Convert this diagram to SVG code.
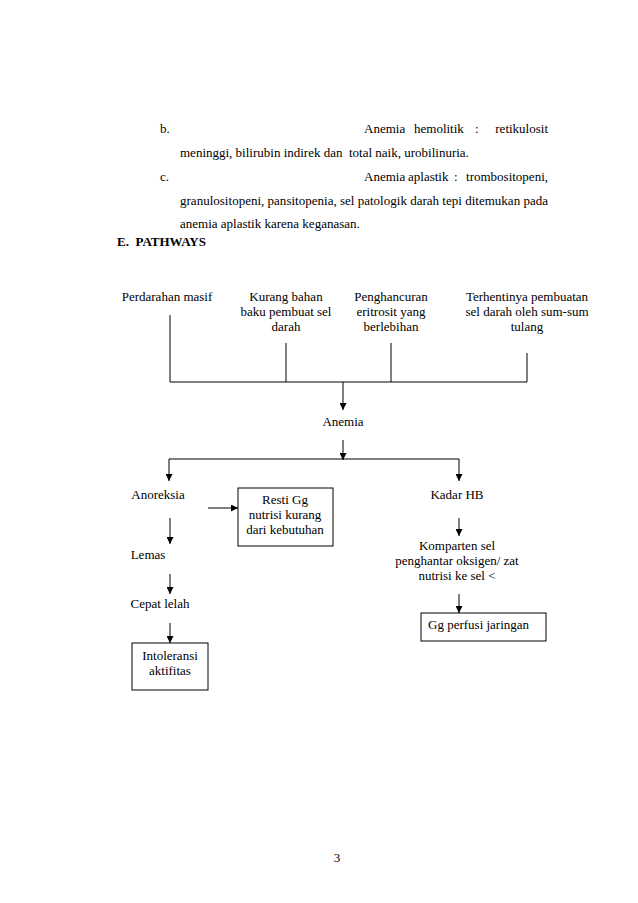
<svg xmlns="http://www.w3.org/2000/svg" width="638" height="903" viewBox="0 0 638 903">
<style>
text{font-family:"Liberation Serif","Times New Roman",serif;font-size:13px;fill:#000}
.c{text-anchor:middle}
.e{text-anchor:end}
.b{font-weight:bold}
line,path{stroke:#000;stroke-width:1;fill:none}
rect{stroke:#000;stroke-width:1;fill:#fff}
</style>
<defs>
<marker id="ah" viewBox="0 0 10 10" refX="10" refY="5" markerWidth="7" markerHeight="7" orient="auto" markerUnits="userSpaceOnUse">
<path d="M0,0 L10,5 L0,10 z" style="fill:#000;stroke:none"/>
</marker>
</defs>
<g id="body-text">
<text x="160" y="133">b.</text>
<text x="364" y="133">Anemia</text>
<text x="414" y="133">hemolitik</text>
<text x="475" y="133">:</text>
<text x="548" y="133" class="e">retikulosit</text>
<text x="180" y="157">meninggi, bilirubin indirek dan&#160; total naik, urobilinuria.</text>
<text x="160" y="181">c.</text>
<text x="364" y="181">Anemia</text>
<text x="408" y="181">aplastik</text>
<text x="454" y="181">:</text>
<text x="548" y="181" class="e">trombositopeni,</text>
<text x="180" y="205" textLength="368" lengthAdjust="spacing">granulositopeni, pansitopenia, sel patologik darah tepi ditemukan pada</text>
<text x="180" y="228">anemia aplastik karena keganasan.</text>
<text x="117" y="246" class="b">E.&#160; PATHWAYS</text>
<text x="337" y="862" class="c">3</text>
</g>
<g id="connectors">
<line x1="170" y1="315" x2="170" y2="382"/>
<line x1="286" y1="343" x2="286" y2="382"/>
<line x1="391" y1="343" x2="391" y2="382"/>
<line x1="527" y1="353" x2="527" y2="382"/>
<line x1="170" y1="382" x2="527" y2="382"/>
<line x1="343" y1="382" x2="343" y2="410" marker-end="url(#ah)"/>
<line x1="343" y1="440" x2="343" y2="460" marker-end="url(#ah)"/>
<line x1="169" y1="459" x2="459" y2="459"/>
<line x1="169" y1="459" x2="169" y2="481" marker-end="url(#ah)"/>
<line x1="459" y1="459" x2="459" y2="481" marker-end="url(#ah)"/>
<line x1="208" y1="508" x2="238" y2="508" marker-end="url(#ah)"/>
<line x1="170" y1="518" x2="170" y2="544" marker-end="url(#ah)"/>
<line x1="170" y1="574" x2="170" y2="594" marker-end="url(#ah)"/>
<line x1="170" y1="623" x2="170" y2="643" marker-end="url(#ah)"/>
<line x1="459" y1="518" x2="459" y2="536" marker-end="url(#ah)"/>
<line x1="459" y1="594" x2="459" y2="613" marker-end="url(#ah)"/>
</g>
<g id="n-perdarahan"><text x="167" y="301" class="c">Perdarahan masif</text></g>
<g id="n-kurang"><text x="286" y="301" class="c">Kurang bahan</text><text x="286" y="316" class="c">baku pembuat sel</text><text x="286" y="331" class="c">darah</text></g>
<g id="n-penghancuran"><text x="391" y="301" class="c">Penghancuran</text><text x="391" y="316" class="c">eritrosit yang</text><text x="391" y="331" class="c">berlebihan</text></g>
<g id="n-terhentinya"><text x="527" y="301" class="c">Terhentinya pembuatan</text><text x="527" y="316" class="c">sel darah oleh sum-sum</text><text x="527" y="331" class="c">tulang</text></g>
<g id="n-anemia"><text x="343" y="426" class="c">Anemia</text></g>
<g id="n-anoreksia"><text x="158" y="499" class="c">Anoreksia</text></g>
<g id="n-resti"><rect x="238" y="488" width="95" height="58"/><text x="285" y="504" class="c">Resti Gg</text><text x="285" y="519" class="c">nutrisi kurang</text><text x="285" y="534" class="c">dari kebutuhan</text></g>
<g id="n-lemas"><text x="148" y="559" class="c">Lemas</text></g>
<g id="n-cepat"><text x="160" y="608" class="c">Cepat lelah</text></g>
<g id="n-intoleransi"><rect x="132" y="643" width="76" height="47"/><text x="170" y="660" class="c">Intoleransi</text><text x="170" y="675" class="c">aktifitas</text></g>
<g id="n-kadar"><text x="457" y="499" class="c">Kadar HB</text></g>
<g id="n-komparten"><text x="457" y="550" class="c">Komparten sel</text><text x="457" y="565" class="c">penghantar oksigen/ zat</text><text x="457" y="580" class="c">nutrisi ke sel &lt;</text></g>
<g id="n-gg"><rect x="421" y="613" width="125" height="28"/><text x="428" y="629">Gg perfusi jaringan</text></g>
</svg>
